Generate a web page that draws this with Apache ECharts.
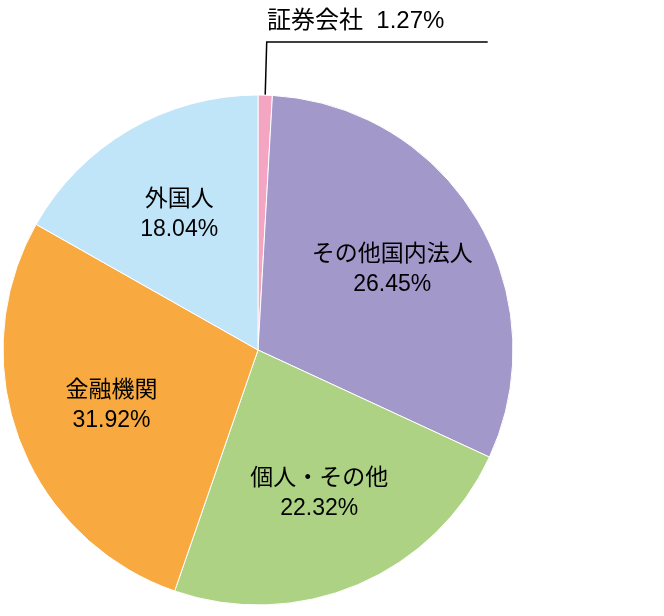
<!DOCTYPE html>
<html><head><meta charset="utf-8">
<script src="https://cdn.jsdelivr.net/npm/echarts@6/dist/echarts.min.js"></script>
<style>html,body{margin:0;background:#fff}#c{width:664px;height:616px}</style>
</head><body><div id="c"></div>
<script>
const categories = ['証券会社','その他国内法人','個人・その他','金融機関','外国人'];
const labelValues = [1.27, 26.45, 22.32, 31.92, 18.04];
const sliceValues = [0.9, 31.0, 23.4, 27.9, 16.8];
const colors = ['#f3a5c1','#a298ca','#add283','#f8a93f','#c0e5f8'];
const FONT = '"Liberation Sans","Noto Sans CJK JP",sans-serif';
const chart = echarts.init(document.getElementById('c'));
chart.setOption({
  animation:false,
  title:{text:categories[0]+'  '+labelValues[0].toFixed(2)+'%',left:262,top:4,
    textStyle:{fontSize:24,fontWeight:'normal',color:'#000',fontFamily:FONT}},
  series:[{
    type:'pie', center:[258,350], radius:[0,255], startAngle:90, clockwise:true,
    itemStyle:{borderColor:'#fff',borderWidth:1},
    label:{position:'inside',fontSize:23,color:'#000',lineHeight:30,fontFamily:FONT,
      formatter:p=>p.name+'\n'+labelValues[p.dataIndex].toFixed(2)+'%'},
    labelLayout:function(p){
      if(p.dataIndex===0) return {};
      const cx=258, cy=350;
      const lx=p.labelRect.x+p.labelRect.width/2, ly=p.labelRect.y+p.labelRect.height/2;
      const k=1.2;
      return {x:cx+(lx-cx)*k, y:cy+(ly-cy)*k, align:'center', verticalAlign:'middle'};
    },
    data: categories.map((n,i)=>{
      const d={name:n,value:sliceValues[i],itemStyle:{color:colors[i]}};
      if(i===0){d.label={position:'outside',formatter:' ',fontSize:1};
        d.labelLine={show:true,length:53,length2:221,smooth:false,lineStyle:{color:'#000',width:1.5}};}
      return d;
    })
  }]
});
</script></body></html>
